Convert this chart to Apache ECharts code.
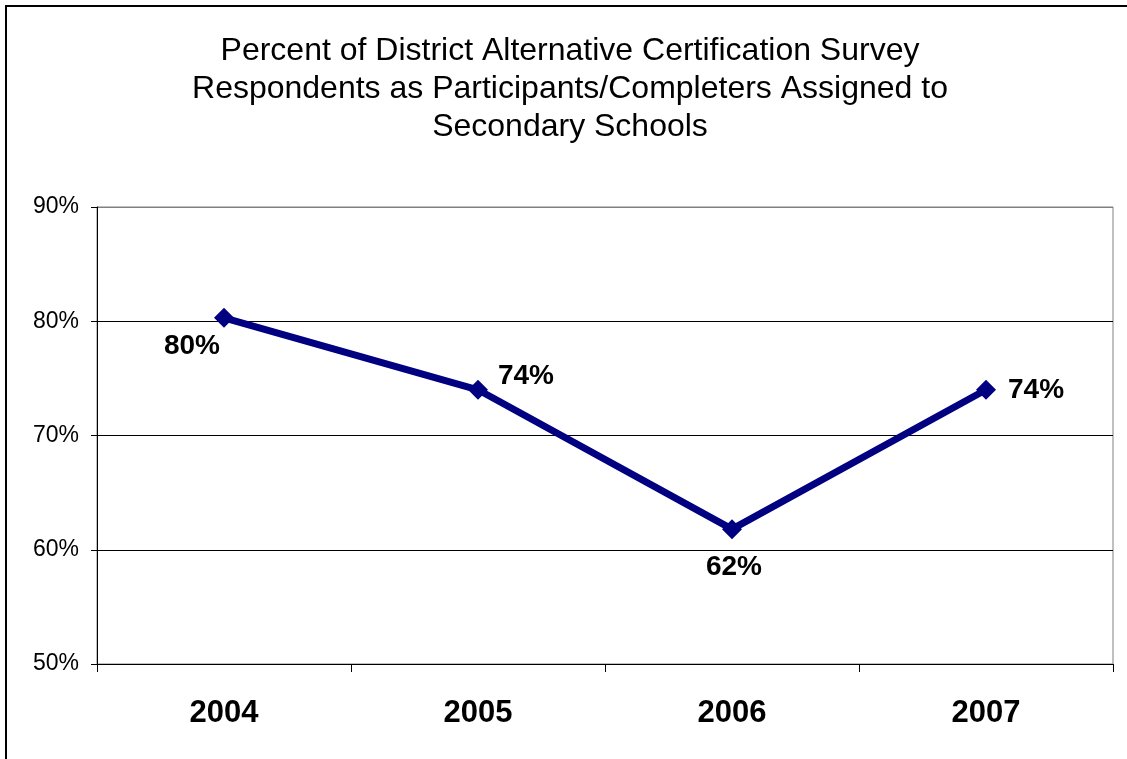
<!DOCTYPE html>
<html><head><meta charset="utf-8">
<script src="https://cdn.jsdelivr.net/npm/echarts@6/dist/echarts.min.js"></script>
<style>html,body{margin:0;padding:0;background:#fff}#c{width:1127px;height:759px}</style>
</head><body><div id="c"></div>
<script>
const categories = ['2004', '2005', '2006', '2007'];
const values = [80.3, 74.0, 61.8, 74.0];
const labelPositions = ['bottomLeft', 'topRight', 'bottom', 'right'];
const titleText = 'Percent of District Alternative Certification Survey\nRespondents as Participants/Completers Assigned to\nSecondary Schools';

const posMap = {
  bottomLeft: {position: 'bottom', offset: [-32, -4]},
  topRight: {position: 'top', offset: [48, 18]},
  bottom: {position: 'bottom', offset: [2, 6]},
  right: {position: 'right', offset: [4, 0]}
};

const chart = echarts.init(document.getElementById('c'), null, {renderer: 'canvas'});
chart.setOption({
  animation: false,
  backgroundColor: '#fff',
  title: {
    text: titleText, left: 565, top: 27, textAlign: 'center',
    textStyle: {fontFamily: 'Liberation Sans, Arial', fontSize: 32, fontWeight: 'normal', color: '#000', lineHeight: 38}
  },
  graphic: [{type: 'rect', shape: {x: 6, y: 6, width: 1140, height: 780}, style: {fill: 'none', stroke: '#000', lineWidth: 2}, z: 100}],
  grid: {left: 97, right: 14, top: 207, bottom: 95, show: true, borderColor: '#808080', borderWidth: 1},
  xAxis: {
    type: 'category', data: categories, boundaryGap: true,
    axisLine: {lineStyle: {color: '#000', width: 1}},
    axisTick: {show: true, inside: false, length: 8, alignWithLabel: false, lineStyle: {color: '#000'}},
    axisLabel: {margin: 34, color: '#000', fontFamily: 'Liberation Sans, Arial', fontSize: 31, fontWeight: 'bold'}
  },
  yAxis: {
    type: 'value', min: 50, max: 90, interval: 10,
    axisLine: {show: true, lineStyle: {color: '#000', width: 1}},
    axisTick: {show: true, inside: false, length: 6, lineStyle: {color: '#000'}},
    axisLabel: {margin: 18, color: '#000', fontFamily: 'Liberation Sans, Arial', fontSize: 23, formatter: v => v + '%'},
    splitLine: {show: true, lineStyle: {color: ['#000', '#000', '#000', '#000', '#808080'], width: 1}}
  },
  series: [{
    type: 'line',
    data: values.map((v, i) => ({
      value: v,
      label: Object.assign({show: true}, posMap[labelPositions[i]])
    })),
    symbol: 'diamond', symbolSize: 20,
    lineStyle: {color: '#000080', width: 7},
    itemStyle: {color: '#000080'},
    label: {
      color: '#000', fontFamily: 'Liberation Sans, Arial', fontSize: 28, fontWeight: 'bold',
      formatter: p => Math.round(p.value) + '%', distance: 8
    }
  }]
});
</script></body></html>
